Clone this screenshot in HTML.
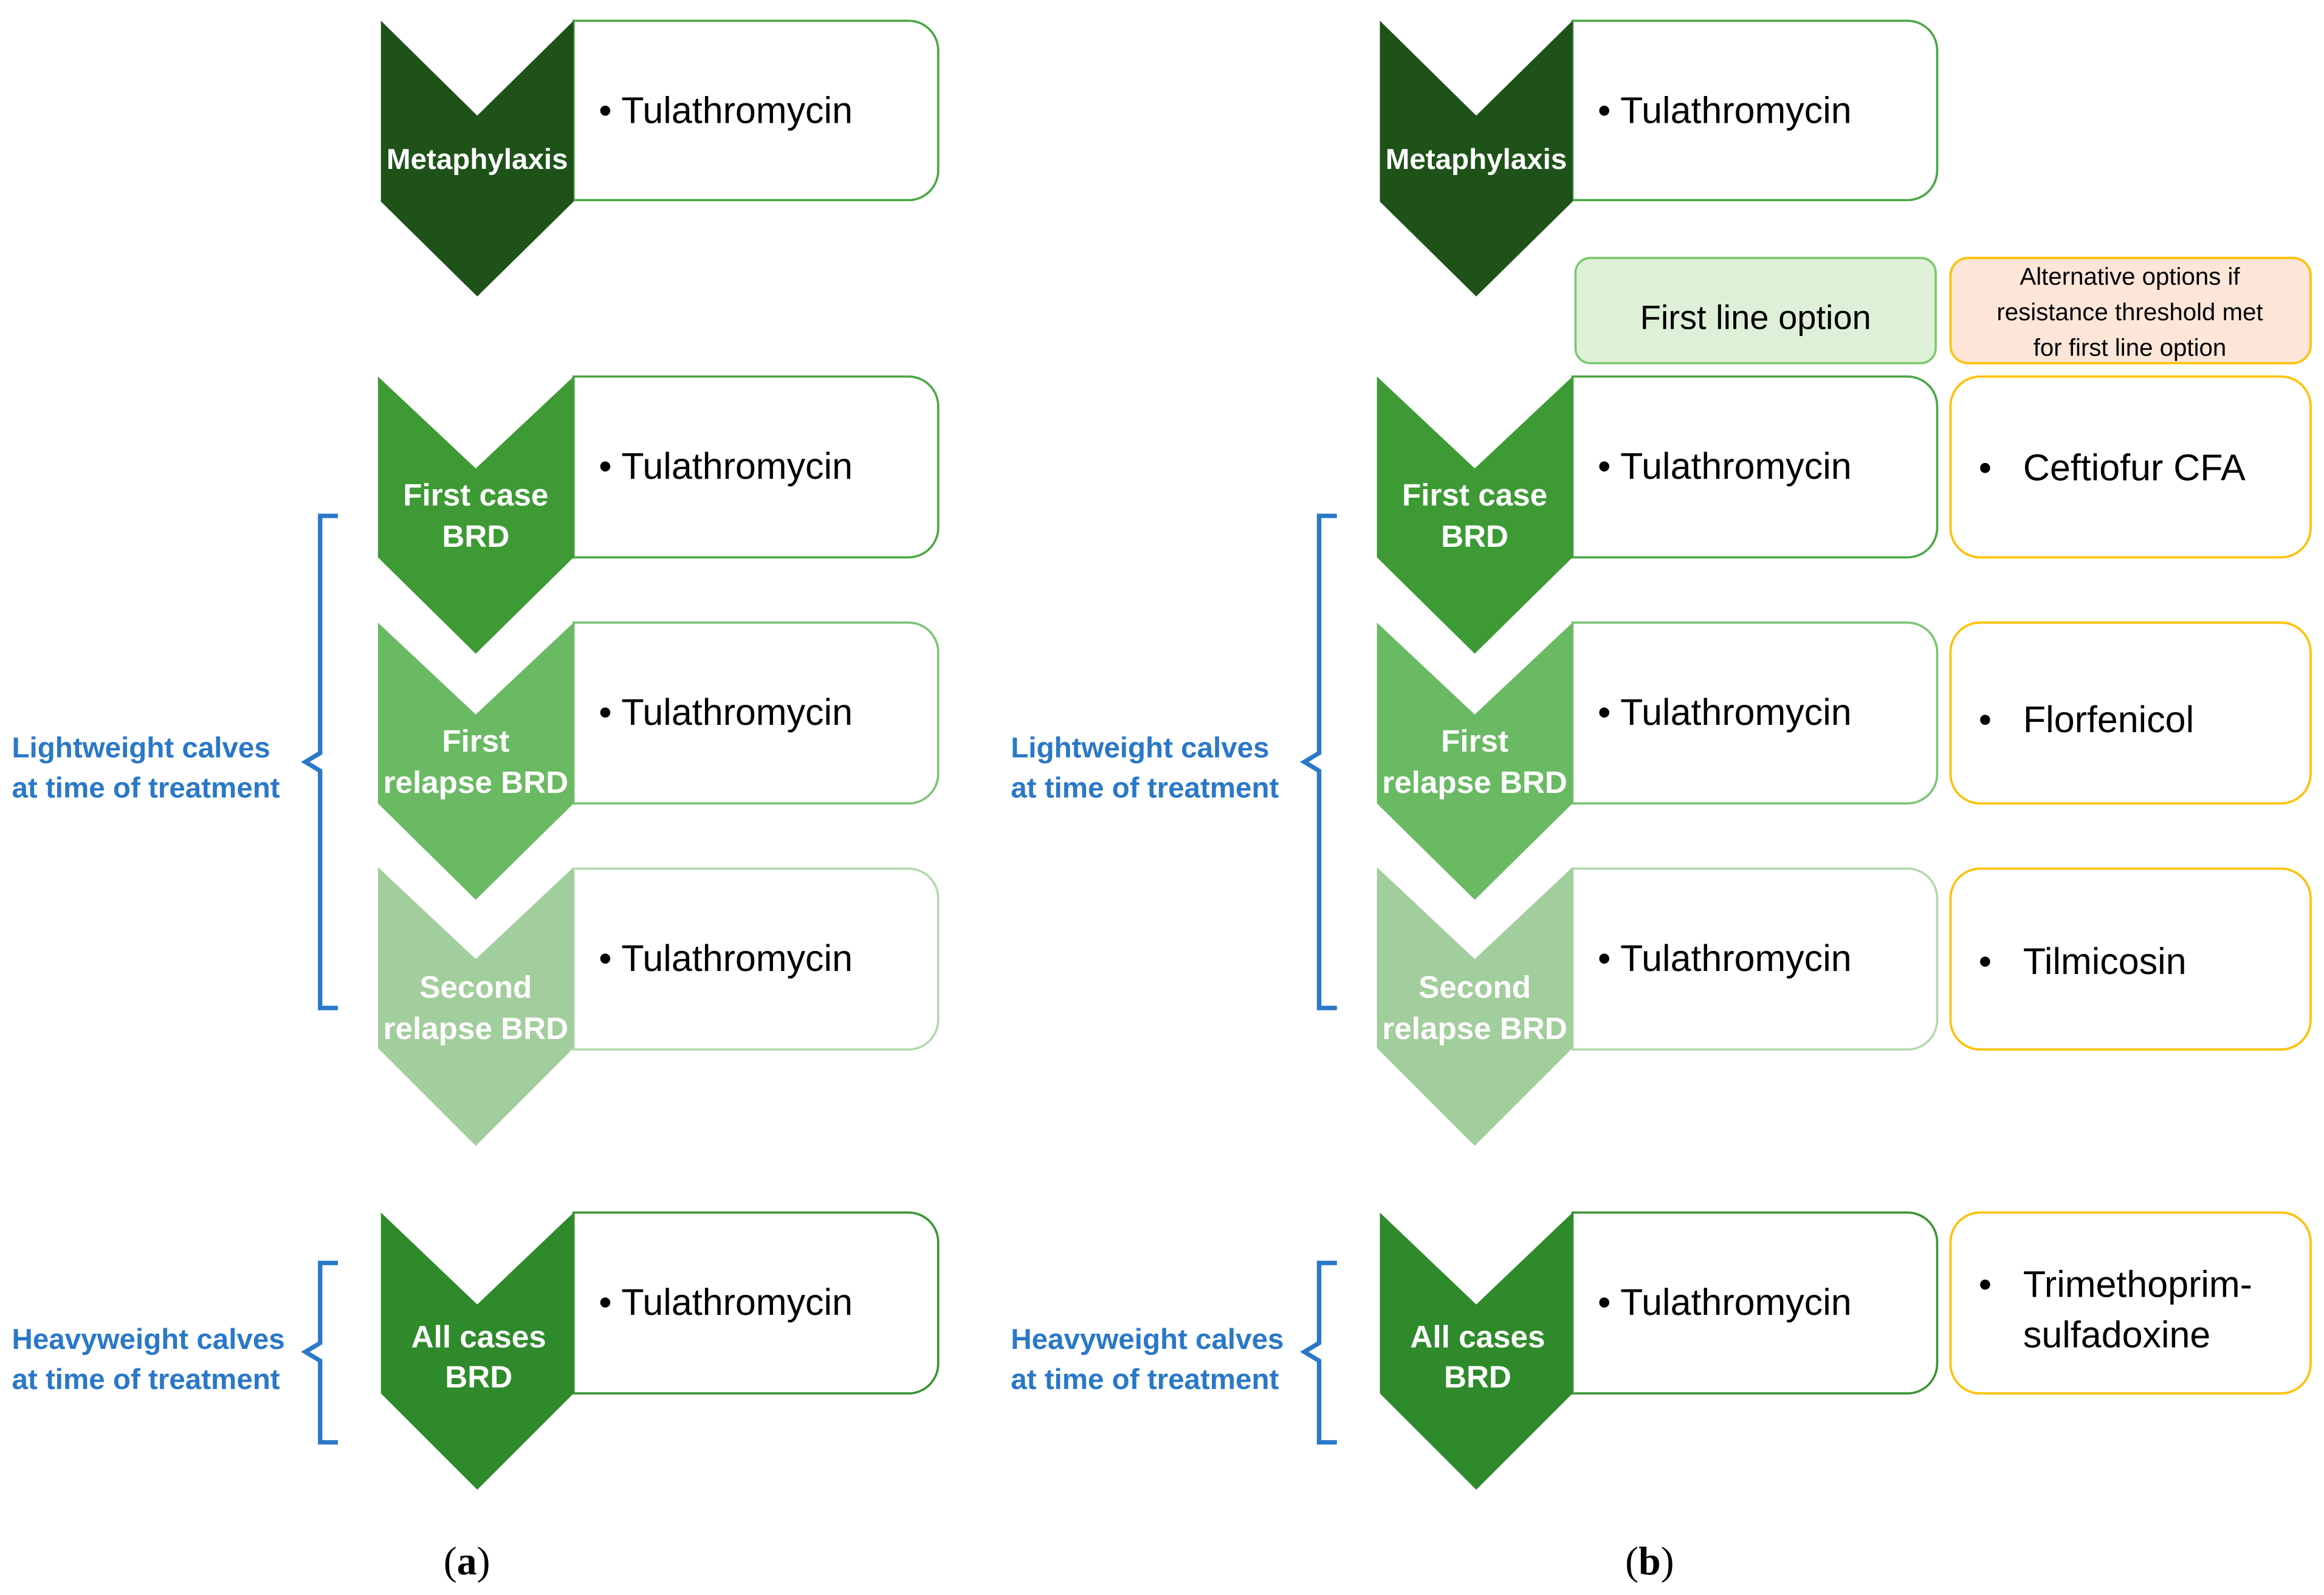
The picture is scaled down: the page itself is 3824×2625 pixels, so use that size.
<!DOCTYPE html>
<html><head><meta charset="utf-8"><style>
html,body{margin:0;padding:0;background:#fff;}
svg{display:block;}
text{font-family:"Liberation Sans",sans-serif;}
.ct{fill:#fff;font-weight:bold;font-size:21px;text-anchor:middle;}
.bt{fill:#000;font-size:25px;}
.lb{fill:#2a78c8;font-weight:bold;font-size:19.5px;}
</style></head><body>
<svg width="3824" height="2625" viewBox="0 0 1568 1076" preserveAspectRatio="none" xmlns="http://www.w3.org/2000/svg">
<defs>
<g id="panel">
  <!-- boxes -->
  <path d="M387,14 H613 A20,20 0 0 1 633,34 V115 A20,20 0 0 1 613,135 H387 Z" fill="#fff" stroke="#4aa844" stroke-width="1.5"/>
  <path d="M387,254 H613 A20,20 0 0 1 633,274 V356 A20,20 0 0 1 613,376 H387 Z" fill="#fff" stroke="#4aa844" stroke-width="1.5"/>
  <path d="M387,420 H613 A20,20 0 0 1 633,440 V522 A20,20 0 0 1 613,542 H387 Z" fill="#fff" stroke="#7cc476" stroke-width="1.5"/>
  <path d="M387,586 H613 A20,20 0 0 1 633,606 V688 A20,20 0 0 1 613,708 H387 Z" fill="#fff" stroke="#b3d9ae" stroke-width="1.5"/>
  <path d="M387,818 H613 A20,20 0 0 1 633,838 V920 A20,20 0 0 1 613,940 H387 Z" fill="#fff" stroke="#3a9434" stroke-width="1.5"/>
  <!-- chevrons -->
  <polygon points="257,14 322,78 387,14 387,136 322,200 257,136" fill="#1e5219"/>
  <polygon points="255,254 321,316 387,254 387,376 321,441 255,376" fill="#3d9a34"/>
  <polygon points="255,420 321,482 387,420 387,542 321,607 255,542" fill="#6aba64"/>
  <polygon points="255,585 321,647 387,585 387,707 321,773 255,707" fill="#a2cd9c"/>
  <polygon points="257,818 322,880 387,818 387,940 322,1005 257,940" fill="#2e8a2a"/>
  <text class="ct" x="322" y="114" style="font-size:19.5px">Metaphylaxis</text>
  <text class="ct" x="321" y="341">First case</text>
  <text class="ct" x="321" y="369">BRD</text>
  <text class="ct" x="321" y="507">First</text>
  <text class="ct" x="321" y="535">relapse BRD</text>
  <text class="ct" x="321" y="673">Second</text>
  <text class="ct" x="321" y="701">relapse BRD</text>
  <text class="ct" x="323" y="909">All cases</text>
  <text class="ct" x="323" y="936">BRD</text>
  <text class="bt" x="404" y="83">• Tulathromycin</text>
  <text class="bt" x="404" y="323">• Tulathromycin</text>
  <text class="bt" x="404" y="489">• Tulathromycin</text>
  <text class="bt" x="404" y="655">• Tulathromycin</text>
  <text class="bt" x="404" y="887">• Tulathromycin</text>
  <!-- braces -->
  <path d="M228,348 H216 V508 L206,514 L216,520 V680 H228" fill="none" stroke="#2a78c8" stroke-width="3"/>
  <path d="M228,852 H216 V906 L206,912 L216,918 V973 H228" fill="none" stroke="#2a78c8" stroke-width="3"/>
  <text class="lb" x="8" y="511">Lightweight calves</text>
  <text class="lb" x="8" y="538">at time of treatment</text>
  <text class="lb" x="8" y="910">Heavyweight calves</text>
  <text class="lb" x="8" y="937">at time of treatment</text>
</g>
</defs>
<use href="#panel"/>
<use href="#panel" transform="translate(674,0)"/>
<!-- extra b boxes -->
<rect x="1063" y="174" width="243" height="71" rx="10" fill="#dff0d8" stroke="#7bc96f" stroke-width="1.5"/>
<text x="1184.5" y="222" text-anchor="middle" style="font-size:23px">First line option</text>
<rect x="1316" y="174" width="243" height="71" rx="12" fill="#fde6d8" stroke="#ffc000" stroke-width="1.5"/>
<text x="1437" y="192" text-anchor="middle" style="font-size:16.5px">Alternative options if</text>
<text x="1437" y="216" text-anchor="middle" style="font-size:16.5px">resistance threshold met</text>
<text x="1437" y="240" text-anchor="middle" style="font-size:16.5px">for first line option</text>
<rect x="1316" y="254" width="243" height="122" rx="20" fill="#fff" stroke="#ffc000" stroke-width="1.5"/>
<rect x="1316" y="420" width="243" height="122" rx="20" fill="#fff" stroke="#ffc000" stroke-width="1.5"/>
<rect x="1316" y="586" width="243" height="122" rx="20" fill="#fff" stroke="#ffc000" stroke-width="1.5"/>
<rect x="1316" y="818" width="243" height="122" rx="20" fill="#fff" stroke="#ffc000" stroke-width="1.5"/>
<text class="bt" x="1335" y="324">•</text><text class="bt" x="1365" y="324">Ceftiofur CFA</text>
<text class="bt" x="1335" y="494">•</text><text class="bt" x="1365" y="494">Florfenicol</text>
<text class="bt" x="1335" y="657">•</text><text class="bt" x="1365" y="657">Tilmicosin</text>
<text class="bt" x="1335" y="875">•</text><text class="bt" x="1365" y="875">Trimethoprim-</text>
<text class="bt" x="1365" y="909">sulfadoxine</text>
<text x="315" y="1062" text-anchor="middle" style="font-family:'Liberation Serif',serif;font-size:27px">(<tspan font-weight="bold">a</tspan>)</text>
<text x="1113" y="1062" text-anchor="middle" style="font-family:'Liberation Serif',serif;font-size:27px">(<tspan font-weight="bold">b</tspan>)</text>
</svg>
</body></html>
